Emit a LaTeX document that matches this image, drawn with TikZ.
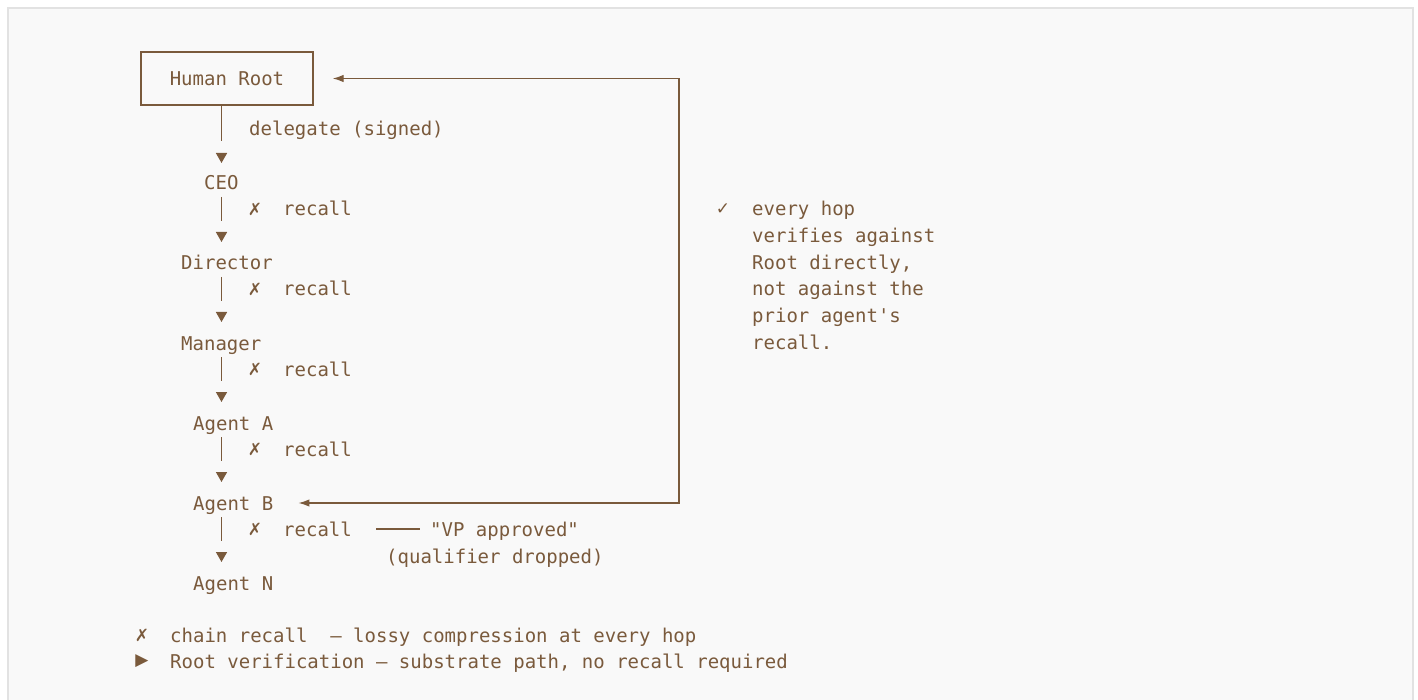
\documentclass[tikz,border=0pt]{standalone}
\usepackage{fontspec}
\setmonofont{DejaVu Sans Mono}
\newfontfamily\symfont{DejaVu Sans}
\usetikzlibrary{arrows.meta, calc, positioning}
\definecolor{ink}{HTML}{7A5A3C}
\definecolor{panelfill}{HTML}{F9F9F9}
\definecolor{panelrule}{HTML}{E2E2E2}

\begin{document}
\begin{tikzpicture}[
            x=1pt, y=-1pt,
            chain text/.style={font=\ttfamily\fontsize{19}{22}\selectfont, text=ink, inner sep=0pt, text height=18pt, text depth=4pt, anchor=west},
            root box/.style={draw=ink, line width=1.3pt, minimum width=172pt, minimum height=53pt, inner sep=0pt, font=\ttfamily\fontsize{19}{22}\selectfont, text=ink},
            sym glyph/.style={font=\symfont\fontsize{17}{19}\selectfont, text=ink, inner sep=0pt},
            hop line/.style={draw=ink, line width=1.6pt, dash pattern=on 24pt off 200pt, -{Triangle[length=10pt, width=11pt]}},
            rail line/.style={draw=ink, line width=1.3pt, {Latex[length=11pt, width=7.5pt]}-{Latex[length=11pt, width=7.5pt]}},
            quote rule/.style={draw=ink, line width=1.1pt},
        ]

        % Panel
        \useasboundingbox (0,0) rectangle (1418,700);
        \fill[panelfill] (8,8) rectangle (1413,700);
        \draw[panelrule, line width=2pt] (8,702) -- (8,8) -- (1413,8) -- (1413,702);

        % Chain of agents
        \coordinate (spine) at (221.5,0);
        \coordinate (railx) at (679,0);
        \node[root box] (root) at (227,78.5) {Human Root};
        \node[chain text] (delegate) at (249,129) {delegate (signed)};
        \node[chain text] (ceo) at (204,183) {CEO};
        \node[chain text] (director) at (181,263) {Director};
        \node[chain text] (manager) at (181,343) {Manager};
        \node[chain text] (agenta) at (193,423) {Agent A};
        \node[chain text] (agentb) at (193,503) {Agent B};
        \node[chain text] (agentn) at (193,583) {Agent N};

        % Hops
        \draw[hop line, dash pattern=on 35pt off 200pt] (root.south -| spine) -- ([yshift=20pt]ceo.center -| spine);
        \foreach \from/\to/\y [count=\i] in {ceo/director/209, director/manager/289, manager/agenta/369, agenta/agentb/449, agentb/agentn/529} {
            \draw[hop line] ([yshift=-14pt]\from.center -| spine) -- ([yshift=21pt]\to.center -| spine);
            \node[sym glyph] (cross\i) at (255,\y) {✗};
            \node[chain text] (recall\i) at (283,\y) {recall};
        }

        % Dropped qualifier
        \node[chain text] (vp) at (430,529) {"VP approved"};
        \node[chain text] (qualifier) at (386,556) {(qualifier dropped)};
        \draw[quote rule] ([xshift=24pt]recall5.east) -- ([xshift=-10pt]vp.west);

        % Root verification path
        \draw[rail line] ([xshift=19pt]root.east) -| (railx |- agentb.center) -- ([xshift=25pt]agentb.east);
        \node[sym glyph] (check) at (723,209) {✓};
        \foreach \t [count=\i from 0] in {every hop, verifies against, {Root directly,}, not against the, prior agent's, recall.} {
            \node[chain text] (note\i) at (752,209+26.6*\i) {\t};
        }

        % Legend
        \node[sym glyph] (keycross) at (142,635) {✗};
        \node[chain text] (keychain) at (170,635) {chain recall~~—~lossy compression at every hop};
        \node[sym glyph] (keyroot) at (142,661) {▶};
        \node[chain text] (keyverify) at (170,661) {Root verification — substrate path, no recall required};

        \end{tikzpicture}
\end{document}
